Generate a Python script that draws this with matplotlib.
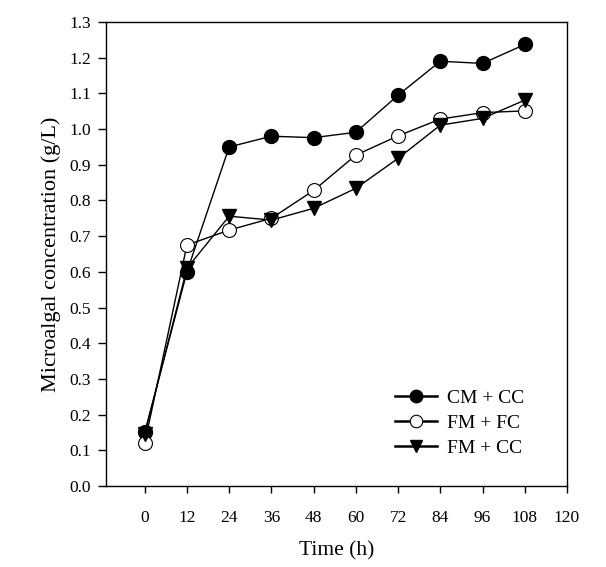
import matplotlib
matplotlib.use("Agg")
import matplotlib.pyplot as plt
import numpy as np

time_h = [0, 12, 24, 36, 48, 60, 72, 84, 96, 108]
cm_cc = [0.15, 0.60, 0.95, 0.98, 0.976, 0.991, 1.095, 1.19, 1.184, 1.237]
fm_fc = [0.12, 0.675, 0.717, 0.75, 0.828, 0.927, 0.981, 1.028, 1.046, 1.051]
fm_cc = [0.145, 0.61, 0.756, 0.745, 0.778, 0.834, 0.918, 1.011, 1.03, 1.081]
x_ticks = [0, 12, 24, 36, 48, 60, 72, 84, 96, 108, 120]
y_ticks = [round(0.1 * i, 1) for i in range(14)]

plt.rcParams['font.family'] = ['Liberation Serif', 'DejaVu Serif']

fig = plt.figure(figsize=(6.06, 5.67), dpi=100)
ax = fig.add_axes([106/606, 1 - 486/567, (567-106)/606, (486-22)/567])

ax.plot(time_h, cm_cc, '-o', color='black', mfc='black', mec='black', ms=10, lw=1, label='CM + CC')
ax.plot(time_h, fm_fc, '-o', color='black', mfc='white', mec='black', ms=10, lw=1, mew=0.8, label='FM + FC')
ax.plot(time_h, fm_cc, '-v', color='black', mfc='black', mec='black', ms=10, lw=1, label='FM + CC')

ax.set_xlim(-11, 120)
ax.set_ylim(0, 1.3)
ax.set_xticks(x_ticks)
ax.set_yticks(y_ticks)
ax.set_yticklabels([f"{v:.1f}" for v in y_ticks])
ax.tick_params(axis='x', direction='out', length=5, width=1, pad=12, labelsize=12.5)
ax.tick_params(axis='y', direction='out', length=6, width=1, pad=5, labelsize=12.5)
for s in ax.spines.values():
    s.set_linewidth(1)

ax.set_xlabel('Time (h)', fontsize=15.5, labelpad=11)
ax.set_ylabel('Microalgal concentration (g/L)', fontsize=16, labelpad=6)

leg = ax.legend(loc='upper left', bbox_to_anchor=(0.627, 0.209), frameon=False, fontsize=14,
                handlelength=2.15, labelspacing=0.38, handletextpad=0.5,
                borderpad=0, borderaxespad=0, markerscale=0.9)
for h in leg.legend_handles:
    h.set_linewidth(1.8)

fig.savefig('out.png', dpi=100)
